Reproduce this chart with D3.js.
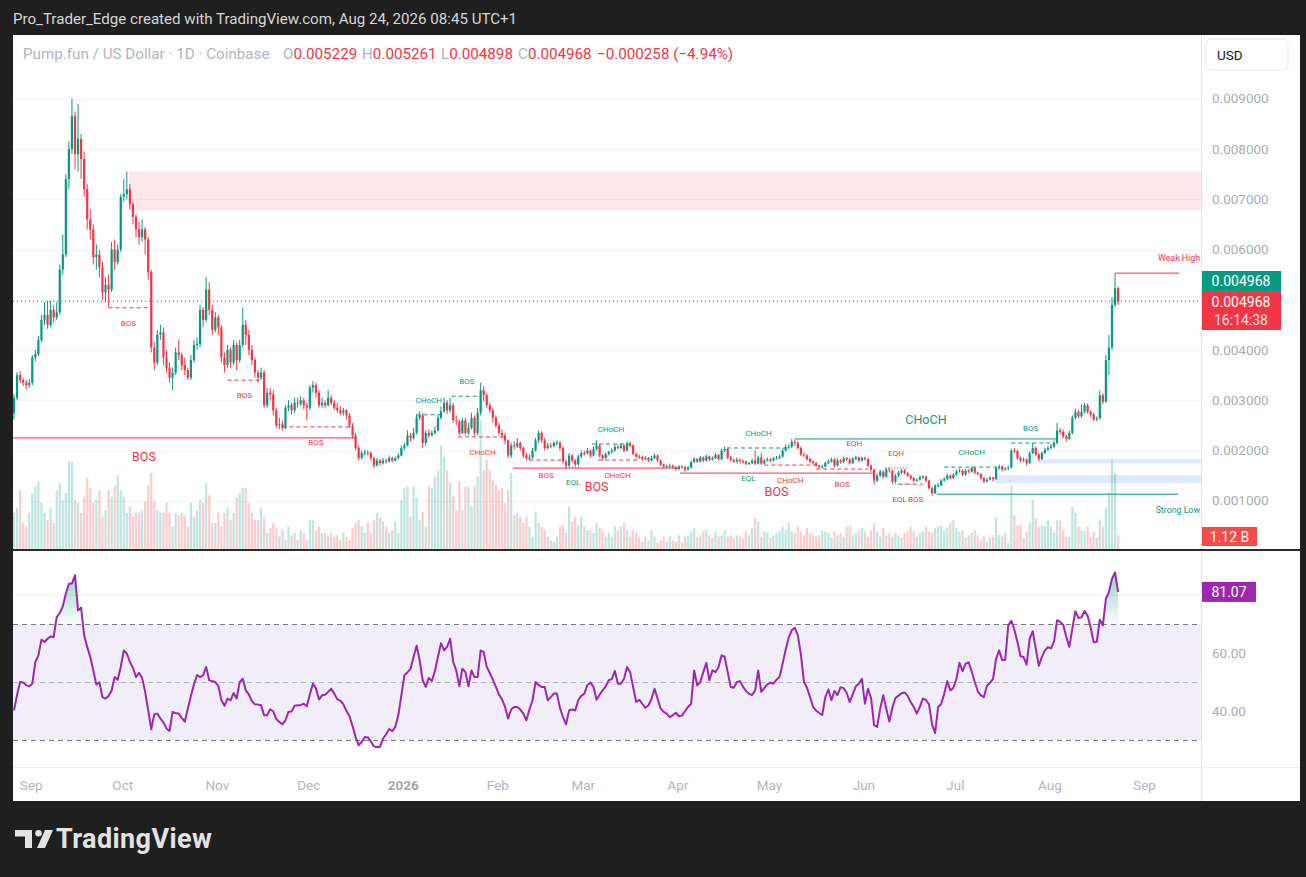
<!DOCTYPE html>
<html>
<head>
<meta charset="utf-8">
<script src="https://cdn.jsdelivr.net/npm/d3@7"></script>
<style>
  body { margin: 0; background: #1f1f1f; }
  svg { display: block; font-family: Roboto, "Noto Sans", sans-serif; }
</style>
</head>
<body>
<svg id="chart"></svg>
<script>
var width  = 1306;
var height = 877;

// Daily candles from 2025-08-27 to 2026-08-24.
// Prices are in thousandths of a dollar (1 = 0.001000 USD).
var firstDay  = Date.UTC(2025, 7, 27);
var firstOpen = 2.75;
var lastOpen  = 5.229;

var close = [
  3.05,3.50,3.40,3.35,3.30,3.35,3.85,3.92,4.20,4.60,
  4.70,4.50,4.80,4.65,4.75,5.60,5.90,7.40,8.00,8.65,
  7.90,8.20,7.80,7.20,6.60,6.40,5.85,5.90,5.65,5.15,
  5.30,5.20,6.00,5.75,6.00,7.05,7.10,7.20,6.90,6.65,
  6.40,6.25,6.40,6.20,5.55,4.05,3.75,4.30,4.35,3.85,
  3.65,3.45,3.55,3.95,3.90,3.70,3.60,3.45,3.80,4.10,
  4.12,4.80,4.60,5.20,4.80,4.40,4.65,4.45,3.85,3.70,
  4.00,3.75,4.10,3.80,4.10,4.50,4.30,4.00,3.80,3.55,
  3.45,3.55,2.90,3.15,3.12,2.80,2.50,2.52,2.45,2.85,
  2.90,2.80,2.95,2.93,3.00,2.90,2.85,3.25,3.30,3.15,
  2.90,2.95,2.90,3.05,2.95,2.85,2.80,2.75,2.80,2.70,
  2.50,2.30,2.05,1.85,1.95,1.96,1.95,1.85,1.70,1.80,
  1.75,1.80,1.78,1.85,1.80,1.85,1.90,2.05,2.10,2.30,
  2.25,2.35,2.65,2.70,2.15,2.35,2.30,2.35,2.40,2.65,
  2.78,2.95,2.80,2.90,2.60,2.58,2.35,2.60,2.35,2.45,
  2.65,2.35,2.75,3.20,3.10,2.90,2.80,2.65,2.50,2.35,
  2.30,2.20,1.90,2.10,2.08,2.15,2.05,1.90,1.85,1.86,
  2.00,2.20,2.35,2.20,2.05,2.10,2.09,2.15,2.16,2.05,
  1.78,1.70,1.90,1.80,1.72,1.88,1.95,1.94,2.00,1.90,
  2.03,2.10,1.90,1.85,1.93,1.97,2.00,2.07,2.05,2.10,
  2.00,2.13,2.10,1.93,1.88,1.87,1.83,1.85,1.80,1.85,
  1.90,1.80,1.72,1.68,1.69,1.70,1.67,1.63,1.68,1.67,
  1.62,1.66,1.77,1.83,1.78,1.86,1.80,1.88,1.82,1.85,
  1.91,1.83,2.00,2.03,1.86,1.81,1.78,1.82,1.79,1.78,
  1.74,1.75,1.80,1.74,1.86,1.74,1.80,1.82,1.80,1.84,
  1.85,1.88,2.00,2.07,2.08,2.17,2.15,2.05,1.92,1.90,
  1.83,1.78,1.75,1.70,1.67,1.68,1.75,1.78,1.82,1.70,
  1.80,1.77,1.84,1.82,1.75,1.83,1.86,1.80,1.85,1.83,
  1.70,1.62,1.40,1.50,1.58,1.48,1.62,1.60,1.38,1.50,
  1.56,1.60,1.55,1.50,1.45,1.40,1.42,1.47,1.48,1.40,
  1.25,1.15,1.30,1.31,1.40,1.43,1.50,1.45,1.52,1.58,
  1.60,1.52,1.60,1.58,1.65,1.56,1.53,1.45,1.38,1.42,
  1.46,1.43,1.65,1.68,1.62,1.64,1.66,2.00,1.99,1.85,
  1.80,1.82,1.75,1.95,2.05,1.92,1.83,1.95,2.02,2.05,
  2.08,2.15,2.40,2.37,2.28,2.23,2.35,2.65,2.77,2.68,
  2.77,2.90,2.77,2.72,2.62,2.64,3.10,2.97,3.80,4.05,
  4.90,5.226,4.968
];

var high = [
  3.12,3.56,3.58,3.45,3.40,3.42,3.90,4.00,4.28,4.70,
  4.95,4.98,4.98,4.90,4.95,5.70,6.30,7.50,8.15,9.00,
  8.75,8.90,8.30,7.95,7.30,6.80,6.50,6.10,6.00,5.75,
  5.45,5.50,6.15,6.20,6.10,7.10,7.40,7.55,7.30,6.95,
  6.70,6.55,6.60,6.45,6.25,5.60,4.15,4.40,4.50,4.45,
  4.00,3.75,3.65,4.05,4.20,3.95,3.85,3.65,3.90,4.20,
  4.25,4.90,4.85,5.45,5.35,4.90,4.75,4.70,4.50,3.95,
  4.10,4.05,4.20,4.15,4.20,4.85,4.60,4.40,4.10,3.85,
  3.60,3.65,3.60,3.25,3.25,3.20,2.85,2.65,2.60,2.90,
  3.00,2.95,3.05,3.05,3.08,3.05,2.95,3.30,3.38,3.35,
  3.20,3.05,3.00,3.20,3.10,3.00,2.95,2.88,2.85,2.82,
  2.75,2.55,2.35,2.10,2.00,2.02,2.00,1.98,1.88,1.85,
  1.83,1.85,1.84,1.90,1.88,1.88,1.95,2.10,2.15,2.40,
  2.35,2.45,2.72,2.78,2.75,2.40,2.42,2.40,2.48,2.70,
  2.88,3.05,3.00,3.05,2.95,2.70,2.62,2.65,2.65,2.55,
  2.75,2.70,2.85,3.35,3.28,3.15,2.95,2.85,2.70,2.55,
  2.42,2.35,2.22,2.15,2.18,2.25,2.18,2.08,1.95,1.92,
  2.05,2.25,2.40,2.38,2.25,2.15,2.15,2.19,2.20,2.18,
  2.08,1.82,1.95,1.93,1.83,1.92,2.00,2.00,2.05,2.02,
  2.08,2.20,2.12,1.93,1.96,2.00,2.04,2.12,2.12,2.14,
  2.12,2.18,2.18,2.12,1.96,1.92,1.90,1.89,1.87,1.89,
  1.94,1.92,1.82,1.74,1.72,1.74,1.72,1.69,1.71,1.71,
  1.69,1.69,1.80,1.87,1.85,1.89,1.88,1.92,1.90,1.88,
  1.95,1.93,2.04,2.08,2.05,1.89,1.84,1.86,1.84,1.82,
  1.80,1.78,1.84,2.00,1.90,1.96,1.83,1.86,1.85,1.87,
  1.89,1.92,2.04,2.12,2.12,2.23,2.22,2.18,2.08,1.96,
  1.93,1.86,1.81,1.77,1.72,1.72,1.78,1.82,1.86,1.85,
  1.84,1.83,1.88,1.87,1.84,1.86,1.90,1.88,1.88,1.88,
  1.85,1.72,1.64,1.55,1.62,1.60,1.66,1.66,1.62,1.54,
  1.60,1.64,1.63,1.57,1.52,1.47,1.45,1.50,1.51,1.50,
  1.42,1.28,1.33,1.35,1.43,1.47,1.54,1.52,1.55,1.62,
  1.64,1.62,1.63,1.63,1.68,1.67,1.58,1.55,1.47,1.45,
  1.49,1.48,1.68,1.72,1.70,1.67,1.70,2.04,2.05,2.02,
  1.88,1.86,1.84,1.98,2.15,2.08,1.95,1.98,2.06,2.09,
  2.13,2.20,2.55,2.45,2.42,2.32,2.40,2.70,2.83,2.80,
  2.92,2.95,2.93,2.80,2.75,2.68,3.20,3.14,3.90,4.30,
  5.05,5.53,5.261
];

var low = [
  2.62,3.00,3.34,3.28,3.22,3.25,3.30,3.78,3.88,4.15,
  4.50,4.42,4.45,4.55,4.60,4.70,5.50,5.85,7.20,7.90,
  7.60,7.55,7.40,7.05,6.40,6.20,5.70,5.60,5.45,5.00,
  4.95,4.85,5.15,5.60,5.70,5.95,6.95,7.00,6.80,6.50,
  6.25,6.10,6.15,5.90,5.40,3.95,3.60,3.70,4.20,3.70,
  3.55,3.35,3.20,3.50,3.80,3.60,3.50,3.40,3.40,3.75,
  4.00,4.05,4.45,4.55,4.70,4.30,4.35,4.30,3.75,3.55,
  3.65,3.65,3.70,3.60,3.75,4.05,4.10,3.90,3.70,3.45,
  3.35,3.40,2.85,2.85,3.00,2.70,2.45,2.42,2.40,2.42,
  2.78,2.72,2.75,2.85,2.88,2.82,2.60,2.80,3.15,3.05,
  2.85,2.85,2.85,2.88,2.90,2.80,2.75,2.70,2.70,2.62,
  2.45,2.25,2.00,1.80,1.82,1.90,1.90,1.80,1.65,1.68,
  1.70,1.72,1.74,1.76,1.76,1.78,1.82,1.88,2.00,2.08,
  2.18,2.22,2.32,2.60,2.05,2.10,2.25,2.28,2.32,2.38,
  2.62,2.75,2.72,2.75,2.55,2.50,2.30,2.32,2.30,2.30,
  2.42,2.30,2.30,2.70,2.98,2.85,2.75,2.55,2.45,2.30,
  2.25,2.12,1.85,1.85,2.02,2.05,2.00,1.85,1.80,1.80,
  1.84,1.98,2.15,2.15,2.00,2.02,2.04,2.06,2.10,2.00,
  1.74,1.64,1.68,1.76,1.68,1.70,1.85,1.90,1.92,1.86,
  1.88,2.00,1.86,1.80,1.83,1.90,1.94,1.98,2.02,2.02,
  1.96,1.98,2.06,1.90,1.85,1.83,1.80,1.81,1.77,1.78,
  1.83,1.77,1.69,1.65,1.65,1.66,1.64,1.60,1.61,1.64,
  1.58,1.60,1.64,1.75,1.75,1.76,1.77,1.78,1.79,1.80,
  1.83,1.80,1.81,1.97,1.83,1.78,1.75,1.76,1.76,1.75,
  1.71,1.71,1.73,1.71,1.72,1.71,1.72,1.78,1.77,1.78,
  1.82,1.83,1.86,1.98,2.03,2.05,2.10,2.02,1.89,1.86,
  1.80,1.75,1.72,1.67,1.64,1.64,1.66,1.73,1.76,1.67,
  1.68,1.74,1.75,1.79,1.72,1.73,1.81,1.77,1.78,1.80,
  1.67,1.58,1.32,1.37,1.47,1.44,1.46,1.56,1.34,1.35,
  1.47,1.53,1.52,1.47,1.42,1.37,1.37,1.40,1.44,1.37,
  1.22,1.10,1.13,1.27,1.29,1.38,1.41,1.42,1.43,1.50,
  1.56,1.49,1.50,1.55,1.56,1.53,1.50,1.42,1.35,1.36,
  1.40,1.38,1.42,1.62,1.59,1.60,1.61,1.64,1.95,1.82,
  1.76,1.77,1.70,1.73,1.93,1.89,1.79,1.81,1.93,1.99,
  2.02,2.05,2.12,2.32,2.24,2.18,2.21,2.32,2.62,2.64,
  2.65,2.74,2.73,2.67,2.58,2.58,2.62,2.92,2.95,3.50,
  4.00,4.85,4.898
];

// Volume in billions of tokens.
var volume = [
  2.9,3.3,4.7,2.1,1.8,2.9,4.5,5.0,5.4,3.7,
  2.9,2.3,3.3,2.1,4.7,5.3,3.9,4.5,7.0,7.0,
  3.9,3.7,2.9,4.2,5.7,4.9,3.7,3.9,4.7,2.6,
  3.1,4.7,4.2,5.1,5.9,4.7,4.2,2.9,3.4,2.6,
  2.9,2.9,3.1,3.8,5.1,6.1,3.8,3.1,2.9,2.9,
  3.7,2.9,1.8,2.9,2.7,2.9,2.6,1.8,3.7,2.6,
  3.1,3.9,3.7,5.3,4.3,2.1,2.1,2.9,1.8,2.9,
  3.3,2.3,2.9,4.1,4.5,4.9,4.9,3.7,2.9,2.3,
  2.3,3.3,2.5,1.3,1.7,2.1,1.7,1.0,1.5,0.7,
  1.8,1.1,1.3,0.7,1.5,1.3,0.7,2.3,2.3,1.5,
  1.8,1.3,1.3,1.1,1.3,1.0,1.1,0.7,1.3,1.0,
  0.7,1.7,2.1,2.3,1.8,1.3,2.1,1.3,2.3,2.9,
  2.5,2.2,1.8,1.3,1.5,2.2,1.3,3.9,4.9,5.0,
  2.6,5.0,4.1,2.3,3.0,1.8,5.0,4.9,5.8,6.3,
  8.3,7.4,6.3,5.3,4.2,3.1,5.4,3.1,5.0,5.0,
  3.4,5.0,5.8,10.3,6.3,7.1,6.3,5.5,5.1,4.7,
  4.9,3.7,4.7,6.1,2.7,2.9,2.6,2.1,2.6,1.8,
  1.0,3.0,2.1,1.8,1.5,1.0,0.7,0.6,1.0,1.8,
  1.9,1.3,3.4,2.2,2.6,1.9,2.6,1.8,1.5,1.5,
  1.3,2.1,1.7,1.5,1.0,1.3,1.0,1.8,1.5,1.8,
  2.1,1.5,1.0,1.5,1.3,1.0,0.6,1.0,0.7,1.5,
  1.0,0.5,0.7,1.0,0.6,1.0,0.7,0.6,1.1,0.5,
  1.0,1.1,1.4,1.7,1.0,1.1,1.4,1.5,1.1,0.9,
  1.4,1.0,1.1,1.5,1.0,1.1,0.9,1.1,1.0,0.9,
  1.4,1.1,1.7,2.5,2.2,1.0,1.4,1.3,0.9,1.1,
  1.3,1.4,1.8,1.5,2.1,1.4,1.3,1.8,1.4,1.1,
  1.7,1.3,1.1,1.0,1.1,1.5,1.4,1.3,0.9,1.4,
  1.1,1.3,1.0,1.8,1.9,1.1,1.3,1.5,1.7,1.4,
  1.0,1.5,2.1,1.4,1.0,1.7,1.1,1.3,1.0,1.3,
  1.1,0.9,1.3,1.4,1.8,1.4,1.0,1.3,1.4,1.8,
  1.4,1.3,1.7,1.8,1.9,1.5,1.7,2.1,2.3,1.7,
  1.4,1.5,0.9,1.1,1.3,1.5,1.1,0.7,1.0,0.6,
  0.9,1.0,2.5,1.1,1.0,1.3,0.5,5.1,2.7,1.9,
  1.9,0.9,1.4,2.1,3.9,2.5,1.8,1.9,1.8,2.3,
  1.8,1.3,2.3,2.3,1.5,1.0,1.0,3.4,2.9,1.8,
  1.5,1.4,1.8,1.0,1.4,0.9,2.3,1.8,3.3,4.5,
  7.1,6.1,1.12
];

var rsi = [
  40.2,45.5,50.0,49.8,48.9,48.5,49.4,56.9,59.2,64.6,
  63.8,64.9,65.7,65.5,72.4,73.8,76.1,80.5,83.9,84.0,
  86.8,74.7,75.6,66.1,62.1,58.6,54.0,49.1,49.9,44.8,
  44.3,45.2,47.1,51.7,50.8,55.2,60.9,59.8,56.9,54.9,
  51.7,53.2,51.4,46.6,40.2,33.7,38.9,39.1,37.4,36.1,
  33.9,33.1,39.7,39.2,39.1,37.6,36.3,40.9,45.2,49.1,
  52.4,51.7,52.3,55.2,50.6,50.3,50.0,48.6,43.7,41.8,
  44.3,43.7,46.2,44.3,50.0,51.1,47.1,45.7,43.4,42.3,
  42.2,42.0,38.5,38.5,40.6,39.9,37.2,36.2,35.4,36.8,
  39.7,39.8,41.8,42.0,42.0,42.5,41.6,45.7,49.4,47.8,
  44.0,45.4,45.6,46.6,47.7,46.0,44.0,43.6,42.3,40.0,
  38.2,34.8,31.0,28.2,29.3,31.0,30.9,29.5,27.8,27.6,
  27.6,30.5,32.0,33.8,33.0,34.5,38.5,45.4,52.3,53.3,
  54.5,58.6,62.5,57.5,50.6,48.3,51.4,50.3,53.8,58.6,
  63.4,60.9,62.1,64.9,56.9,54.0,48.5,54.6,53.4,48.5,
  54.0,51.7,51.7,60.9,60.3,55.2,53.1,50.8,48.3,45.7,
  44.0,41.4,37.4,40.5,41.4,41.4,40.5,39.1,36.8,40.5,
  43.7,50.0,48.9,48.3,48.3,43.7,44.8,46.0,46.0,41.1,
  37.9,35.4,40.2,40.5,40.2,43.7,45.2,46.0,48.9,49.8,
  48.3,43.9,45.6,47.1,48.5,50.6,51.0,53.8,49.4,49.4,
  51.1,55.2,53.4,48.3,43.1,43.9,42.5,41.1,41.9,44.1,
  47.7,44.3,40.9,39.7,39.1,37.9,38.5,39.4,38.2,38.4,
  39.9,41.4,42.5,54.0,48.9,50.0,53.4,56.6,50.6,54.0,
  53.4,55.2,59.2,58.7,53.4,48.3,48.0,49.9,50.3,48.4,
  46.9,45.9,45.5,47.1,54.0,46.6,47.9,49.2,49.8,49.4,
  50.8,51.7,56.3,61.1,65.3,67.8,68.7,66.1,59.5,50.0,
  48.0,44.8,41.4,40.1,39.3,38.6,44.8,47.4,43.7,46.9,
  45.5,48.2,47.9,46.3,43.1,45.7,48.5,49.4,51.1,42.5,
  47.7,44.5,35.1,34.5,40.8,45.4,40.8,36.4,41.1,44.5,
  45.3,46.1,46.4,45.2,43.1,41.4,39.1,41.4,44.3,43.8,
  42.3,35.4,32.4,41.4,42.4,46.0,50.3,47.1,48.0,51.1,
  56.6,53.7,56.3,56.8,53.6,50.0,46.8,45.4,44.8,48.7,
  49.7,51.1,58.0,60.9,57.5,57.7,69.5,71.1,68.0,63.8,
  58.9,58.6,56.0,64.9,67.5,61.5,55.6,58.6,60.9,62.0,
  61.6,63.9,71.3,70.7,69.7,65.6,62.1,68.4,74.4,72.1,
  72.3,74.5,72.9,68.7,63.7,63.8,71.5,69.5,78.7,81.1,
  85.6,87.8,81.07
];

var priceGrid   = [1, 2, 3, 4, 5, 6, 7, 8, 9];
var priceLabels = [1, 2, 3, 4, 6, 7, 8, 9];
var rsiGrid     = [20, 40, 60, 80];
var rsiLabels   = [40, 60];
var rsiDashed   = [70, 50, 30];

// Order blocks / imbalance zones: [fromDay, top, bottom, colour]; they run to the right edge.
var zones = [
  [37.7, 7.55, 6.78, "rgba(242,54,69,0.12)"],
  [335.4, 1.83, 1.75, "rgba(41,98,255,0.15)"],
  [321.6, 1.51, 1.35, "rgba(41,98,255,0.15)"]
];

// Market structure: from, to, price, colour (g/r), style, label, side, big
var structure = [
  {f: 31,    t: 44,    p: 4.84, c: "r", s: "dash",  l: "BOS",   side: 1},
  {f: 70,    t: 81,    p: 3.40, c: "r", s: "dash",  l: "BOS",   side: 1},
  {f: 88,    t: 110,   p: 2.47, c: "r", s: "dash",  l: "BOS",   side: 1},
  {f: -30,   t: 112,   p: 2.25, c: "r", s: "solid", l: "BOS",   side: 1, big: 1, at: 42.6},
  {f: 132,   t: 140,   p: 2.71, c: "g", s: "dash",  l: "CHoCH", side: -1},
  {f: 143.5, t: 153.5, p: 3.08, c: "g", s: "dash",  l: "BOS",   side: -1},
  {f: 145.6, t: 161.6, p: 2.27, c: "r", s: "dash",  l: "CHoCH", side: 1},
  {f: 163.6, t: 218.4, p: 1.65, c: "r", s: "solid", l: "BOS",   side: 1, big: 1},
  {f: 169,   t: 180,   p: 1.81, c: "r", s: "dash",  l: "BOS",   side: 1},
  {f: 181,   t: 185.6, p: 1.67, c: "g", s: "dot",   l: "EQL",   side: 1},
  {f: 189.5, t: 202,   p: 2.13, c: "g", s: "dash",  l: "CHoCH", side: -1},
  {f: 191.5, t: 204.3, p: 1.81, c: "r", s: "dash",  l: "CHoCH", side: 1},
  {f: 218.4, t: 281.6, p: 1.55, c: "r", s: "solid", l: "BOS",   side: 1, big: 1},
  {f: 233.8, t: 254.4, p: 2.05, c: "g", s: "dash",  l: "CHoCH", side: -1},
  {f: 237,   t: 244.6, p: 1.75, c: "g", s: "dot",   l: "EQL",   side: 1},
  {f: 246,   t: 263,   p: 1.71, c: "r", s: "dash",  l: "CHoCH", side: 1},
  {f: 256,   t: 342,   p: 2.23, c: "g", s: "solid", l: "CHoCH", side: -1, big: 1},
  {f: 272,   t: 279,   p: 1.85, c: "r", s: "dot",   l: "EQH",   side: -1},
  {f: 263,   t: 280,   p: 1.63, c: "r", s: "dash",  l: "BOS",   side: 1},
  {f: 285.6, t: 292.8, p: 1.65, c: "r", s: "dot",   l: "EQH",   side: -1},
  {f: 288,   t: 296,   p: 1.33, c: "g", s: "dot",   l: "EQL",   side: 1, at: 290.3},
  {f: 290,   t: 298,   p: 1.33, c: "r", s: "dash",  l: "BOS",   side: 1, at: 295.6},
  {f: 305,   t: 323,   p: 1.67, c: "g", s: "dash",  l: "CHoCH", side: -1},
  {f: 327,   t: 339.7, p: 2.15, c: "g", s: "dash",  l: "BOS",   side: -1}
];

// Swing levels with labels at the right edge.
var swings = [
  {f: 361,   t: 382,   p: 5.53, c: "r", l: "Weak High",  side: -1},
  {f: 302.6, t: 381.6, p: 1.13, c: "g", l: "Strong Low", side: 1}
];

var UP = "#089981", DOWN = "#f23645";
var colorOf = {g: UP, r: DOWN};
var dashOf = {dash: "4,3", dot: "1,2", solid: null};

var plot = {left: 13, right: 1201, top: 35, bottom: 549};
var rsiPane = {top: 551, bottom: 767};

var dayMs = 864e5;
var dateOf = function(i) { return new Date(firstDay + i * dayMs); };

var x = d3.scaleUtc()
          .domain([dateOf(0), dateOf(362)])
          .range([14, 1118.1]);
var xi = function(i) { return x(dateOf(i)); };

var y  = d3.scaleLinear().domain([0, 9]).range([551, 98.75]);
var yv = d3.scaleLinear().domain([0, 1.12]).range([549, 535]);
var yr = d3.scaleLinear().domain([30, 70]).range([740, 624]);

var candles = close.map(function(c, i) {
  var o = i === 0 ? firstOpen : (i === close.length - 1 ? lastOpen : close[i - 1]);
  return {i: i, o: o, h: high[i], l: low[i], c: c, v: volume[i]};
});

var svg = d3.select("#chart")
            .attr("width", width)
            .attr("height", height);

var defs = svg.append("defs");
defs.append("clipPath").attr("id", "clipPrice")
    .append("rect")
    .attr("x", plot.left).attr("y", plot.top)
    .attr("width", plot.right - plot.left).attr("height", plot.bottom - plot.top);
defs.append("clipPath").attr("id", "clipRsi")
    .append("rect")
    .attr("x", plot.left).attr("y", rsiPane.top)
    .attr("width", plot.right - plot.left).attr("height", rsiPane.bottom - rsiPane.top);

var ob = defs.append("linearGradient").attr("id", "obFill")
             .attr("gradientUnits", "userSpaceOnUse")
             .attr("x1", 0).attr("x2", 0).attr("y1", yr(90)).attr("y2", yr(70));
ob.append("stop").attr("offset", 0).attr("stop-color", UP).attr("stop-opacity", 0.5);
ob.append("stop").attr("offset", 1).attr("stop-color", UP).attr("stop-opacity", 0.02);
var os = defs.append("linearGradient").attr("id", "osFill")
             .attr("gradientUnits", "userSpaceOnUse")
             .attr("x1", 0).attr("x2", 0).attr("y1", yr(10)).attr("y2", yr(30));
os.append("stop").attr("offset", 0).attr("stop-color", DOWN).attr("stop-opacity", 0.5);
os.append("stop").attr("offset", 1).attr("stop-color", DOWN).attr("stop-opacity", 0.02);

// Page background and snapshot title
svg.append("rect").attr("width", width).attr("height", height).attr("fill", "#1f1f1f");
svg.append("text")
   .attr("x", 13).attr("y", 24)
   .attr("fill", "#d6d6d6")
   .style("font-size", "15.1px")
   .text("Pro_Trader_Edge created with TradingView.com, Aug 24, 2026 08:45 UTC+1");

svg.append("rect")
   .attr("x", 13).attr("y", 35).attr("width", 1287).attr("height", 766)
   .attr("fill", "#ffffff");

// ---- price pane ----
var pricePane = svg.append("g").attr("clip-path", "url(#clipPrice)");

pricePane.selectAll(".pgrid")
   .data(priceGrid).enter()
   .append("line")
   .attr("x1", plot.left).attr("x2", plot.right)
   .attr("y1", function(d) { return Math.round(y(d)) + 0.5; })
   .attr("y2", function(d) { return Math.round(y(d)) + 0.5; })
   .attr("stroke", "#f0f3fa");

pricePane.selectAll(".zone")
   .data(zones).enter()
   .append("rect")
   .attr("x", function(d) { return xi(d[0]); })
   .attr("y", function(d) { return y(d[1]); })
   .attr("width", function(d) { return plot.right - xi(d[0]); })
   .attr("height", function(d) { return y(d[2]) - y(d[1]); })
   .attr("fill", function(d) { return d[3]; });

pricePane.selectAll(".vol")
   .data(candles).enter()
   .append("rect")
   .attr("x", function(d) { return xi(d.i) - 1.1; })
   .attr("width", 2.2)
   .attr("y", function(d) { return yv(d.v); })
   .attr("height", function(d) { return yv(0) - yv(d.v); })
   .attr("fill", function(d) {
     return d.c >= d.o ? "rgba(8,153,129,0.26)" : "rgba(242,54,69,0.26)";
   });

pricePane.selectAll(".struct")
   .data(structure.concat(swings)).enter()
   .append("line")
   .attr("x1", function(d) { return xi(d.f); })
   .attr("x2", function(d) { return xi(d.t); })
   .attr("y1", function(d) { return y(d.p); })
   .attr("y2", function(d) { return y(d.p); })
   .attr("stroke", function(d) { return colorOf[d.c]; })
   .attr("stroke-width", 1)
   .attr("stroke-dasharray", function(d) { return dashOf[d.s || "solid"]; });

var candle = pricePane.selectAll(".candle")
   .data(candles).enter()
   .append("g");
candle.append("line")
   .attr("x1", function(d) { return xi(d.i); })
   .attr("x2", function(d) { return xi(d.i); })
   .attr("y1", function(d) { return y(d.h); })
   .attr("y2", function(d) { return y(d.l); })
   .attr("stroke", function(d) { return d.c >= d.o ? UP : DOWN; })
   .attr("stroke-width", 1);
candle.append("rect")
   .attr("x", function(d) { return xi(d.i) - 1.1; })
   .attr("width", 2.2)
   .attr("y", function(d) { return y(Math.max(d.o, d.c)); })
   .attr("height", function(d) { return Math.max(1, Math.abs(y(d.o) - y(d.c))); })
   .attr("fill", function(d) { return d.c >= d.o ? UP : DOWN; });

var last = candles[candles.length - 1];
pricePane.append("line")
   .attr("x1", plot.left).attr("x2", plot.right)
   .attr("y1", y(last.c)).attr("y2", y(last.c))
   .attr("stroke", DOWN)
   .attr("stroke-dasharray", "1,3");

pricePane.selectAll(".slabel")
   .data(structure).enter()
   .append("text")
   .attr("x", function(d) { return xi(d.at !== undefined ? d.at : (d.f + d.t) / 2); })
   .attr("y", function(d) { return y(d.p) + d.side * (d.big ? 19 : 15); })
   .attr("dy", "0.35em")
   .attr("text-anchor", "middle")
   .attr("fill", function(d) { return colorOf[d.c]; })
   .style("font-size", function(d) { return d.big ? "12.5px" : "8px"; })
   .text(function(d) { return d.l; });

pricePane.selectAll(".swlabel")
   .data(swings).enter()
   .append("text")
   .attr("x", plot.right - 1)
   .attr("y", function(d) { return y(d.p) + d.side * 15.5; })
   .attr("dy", "0.35em")
   .attr("text-anchor", "end")
   .attr("fill", function(d) { return colorOf[d.c]; })
   .style("font-size", "8.8px")
   .text(function(d) { return d.l; });

// Legend line
var fmt6 = function(v) { return (v / 1000).toFixed(6); };
var prevClose = close[close.length - 2];
var chg = last.c - prevClose;
var legend = svg.append("text")
   .attr("x", 23).attr("y", 59)
   .style("font-size", "15.2px")
   .attr("fill", "#b2b5be");
legend.append("tspan").text("Pump.fun / US Dollar \u00b7 1D \u00b7 Coinbase");
var ohlc = [["O", last.o, 283], ["H", last.h, 362], ["L", last.l, 441], ["C", last.c, 518]];
ohlc.forEach(function(d) {
  legend.append("tspan").attr("x", d[2]).text(d[0]);
  legend.append("tspan").attr("fill", DOWN).text(fmt6(d[1]));
});
legend.append("tspan").attr("x", 597).attr("fill", DOWN)
   .text("\u2212" + fmt6(Math.abs(chg)) + " (\u2212" +
         Math.abs(chg / prevClose * 100).toFixed(2) + "%)");

// ---- price scale ----
svg.append("line")
   .attr("x1", 1201.5).attr("x2", 1201.5).attr("y1", 35).attr("y2", 801)
   .attr("stroke", "#e0e3eb");

svg.selectAll(".plabel")
   .data(priceLabels).enter()
   .append("text")
   .attr("x", 1212)
   .attr("y", function(d) { return y(d); })
   .attr("dy", "0.35em")
   .attr("fill", "#a9acb5")
   .style("font-size", "13.5px")
   .text(fmt6);

svg.append("rect")
   .attr("x", 1206).attr("y", 39).attr("width", 82).attr("height", 31).attr("rx", 5)
   .attr("fill", "#fff").attr("stroke", "#e6e8ee");
svg.append("text")
   .attr("x", 1217).attr("y", 60)
   .attr("fill", "#131722")
   .style("font-size", "13.5px")
   .text("USD");

svg.append("rect")
   .attr("x", 1202).attr("y", 271).attr("width", 79).attr("height", 20)
   .attr("fill", UP);
svg.append("text")
   .attr("x", 1241).attr("y", 281).attr("dy", "0.36em")
   .attr("text-anchor", "middle").attr("fill", "#fff")
   .style("font-size", "14px")
   .text(fmt6(last.c));
svg.append("rect")
   .attr("x", 1202).attr("y", 291).attr("width", 79).attr("height", 39)
   .attr("fill", DOWN);
svg.append("text")
   .attr("x", 1241).attr("y", 302).attr("dy", "0.36em")
   .attr("text-anchor", "middle").attr("fill", "#fff")
   .style("font-size", "14px")
   .text(fmt6(last.c));
svg.append("text")
   .attr("x", 1241).attr("y", 320).attr("dy", "0.36em")
   .attr("text-anchor", "middle").attr("fill", "#fde3e5")
   .style("font-size", "14px")
   .text("16:14:38");

svg.append("rect")
   .attr("x", 1202).attr("y", 527).attr("width", 55).attr("height", 19)
   .attr("fill", "#f44b4b");
svg.append("text")
   .attr("x", 1229.5).attr("y", 536.5).attr("dy", "0.36em")
   .attr("text-anchor", "middle").attr("fill", "#fff")
   .style("font-size", "14px")
   .text(last.v.toFixed(2) + " B");

// pane separator
svg.append("rect")
   .attr("x", 13).attr("y", 549).attr("width", 1287).attr("height", 2)
   .attr("fill", "#2a2a2a");

// ---- RSI pane ----
var rsiG = svg.append("g").attr("clip-path", "url(#clipRsi)");

rsiG.append("rect")
   .attr("x", plot.left).attr("width", plot.right - plot.left)
   .attr("y", yr(70)).attr("height", yr(30) - yr(70))
   .attr("fill", "rgba(126,87,194,0.1)");

rsiG.selectAll(".rgrid")
   .data(rsiGrid).enter()
   .append("line")
   .attr("x1", plot.left).attr("x2", plot.right)
   .attr("y1", function(d) { return Math.round(yr(d)) + 0.5; })
   .attr("y2", function(d) { return Math.round(yr(d)) + 0.5; })
   .attr("stroke", "#eef0f5");

rsiG.selectAll(".rdash")
   .data(rsiDashed).enter()
   .append("line")
   .attr("x1", plot.left).attr("x2", plot.right)
   .attr("y1", function(d) { return Math.round(yr(d)) + 0.5; })
   .attr("y2", function(d) { return Math.round(yr(d)) + 0.5; })
   .attr("stroke", function(d) { return d === 50 ? "#b2b5be" : "#787b86"; })
   .attr("stroke-dasharray", "5,4");

rsiG.append("path")
   .datum(rsi)
   .attr("fill", "url(#obFill)")
   .attr("d", d3.area()
     .x(function(d, i) { return xi(i); })
     .y0(yr(70))
     .y1(function(d) { return yr(Math.max(d, 70)); }));
rsiG.append("path")
   .datum(rsi)
   .attr("fill", "url(#osFill)")
   .attr("d", d3.area()
     .x(function(d, i) { return xi(i); })
     .y0(yr(30))
     .y1(function(d) { return yr(Math.min(d, 30)); }));

rsiG.append("path")
   .datum(rsi)
   .attr("fill", "none")
   .attr("stroke", "#9c27b0")
   .attr("stroke-width", 2)
   .attr("stroke-linejoin", "round")
   .attr("d", d3.line()
     .x(function(d, i) { return xi(i); })
     .y(function(d) { return yr(d); }));

svg.selectAll(".rlabel")
   .data(rsiLabels).enter()
   .append("text")
   .attr("x", 1212)
   .attr("y", function(d) { return yr(d); })
   .attr("dy", "0.35em")
   .attr("fill", "#a9acb5")
   .style("font-size", "13.5px")
   .text(function(d) { return d.toFixed(2); });

var lastRsi = rsi[rsi.length - 1];
svg.append("rect")
   .attr("x", 1202).attr("y", yr(lastRsi) - 10).attr("width", 54).attr("height", 20)
   .attr("fill", "#9c27b0");
svg.append("text")
   .attr("x", 1229).attr("y", yr(lastRsi)).attr("dy", "0.36em")
   .attr("text-anchor", "middle").attr("fill", "#fff")
   .style("font-size", "14px")
   .text(lastRsi.toFixed(2));

// ---- time axis ----
svg.append("line")
   .attr("x1", 13).attr("x2", 1300).attr("y1", 767.5).attr("y2", 767.5)
   .attr("stroke", "#eef0f5");

var months = d3.utcMonth.range(new Date(Date.UTC(2025, 8, 1)), new Date(Date.UTC(2026, 9, 1)));
svg.selectAll(".tlabel")
   .data(months).enter()
   .append("text")
   .attr("x", function(d) { return x(d) + 2; })
   .attr("y", 790)
   .attr("text-anchor", "middle")
   .style("font-size", "13.5px")
   .style("font-weight", function(d) { return d.getUTCMonth() === 0 ? 700 : 400; })
   .attr("fill", function(d) { return d.getUTCMonth() === 0 ? "#a3a6ae" : "#b2b5be"; })
   .text(function(d) {
     return d.getUTCMonth() === 0 ? d3.utcFormat("%Y")(d) : d3.utcFormat("%b")(d);
   });

// ---- TradingView mark ----
var logo = svg.append("g").attr("fill", "#e3e3e3");
logo.append("path").attr("d", "M15,830 H32 V848 H25 V836.5 H15 Z");
logo.append("circle").attr("cx", 38.5).attr("cy", 833.2).attr("r", 3.3);
logo.append("path").attr("d", "M45,830 H53 L45,848 H37 Z");
logo.append("text")
   .attr("x", 56).attr("y", 848)
   .style("font-size", "27px")
   .style("font-weight", 700)
   .style("letter-spacing", "0.4px")
   .text("TradingView");
</script>
</body>
</html>
